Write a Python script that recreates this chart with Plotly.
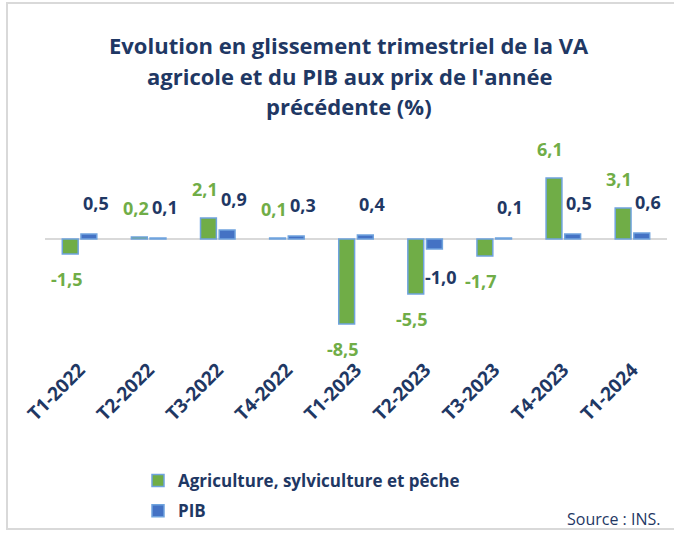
import plotly.graph_objects as go

categories = ["T1-2022", "T2-2022", "T3-2022", "T4-2022", "T1-2023",
              "T2-2023", "T3-2023", "T4-2023", "T1-2024"]
agri = [-1.5, 0.2, 2.1, 0.1, -8.5, -5.5, -1.7, 6.1, 3.1]
pib = [0.5, 0.1, 0.9, 0.3, 0.4, -1.0, 0.1, 0.5, 0.6]
agri_name = "Agriculture, sylviculture et pêche"
pib_name = "PIB"
title_lines = ["Evolution en glissement trimestriel de la VA",
               "agricole et du PIB aux prix de l'année",
               "précédente (%)"]
source_text = "Source : INS."

GREEN = "#70AD47"
BLUE = "#4472C4"
EDGE = "#6FA3DE"
NAVY = "#1F3864"
FONT = "Open Sans"

# plot area in pixels: x 45..667, y 159..354 (zero at 239)
L, R, T, B = 45, 7, 159, 181
W, H = 674, 535
pw, ph = W - L - R, H - T - B


def px_x(p):
    return (p - L) / pw


def px_y(p):
    return (H - B - p) / ph


def fmt(v):
    return f"{v:.1f}".replace(".", ",")


fig = go.Figure()
fig.add_trace(go.Bar(x=categories, y=agri, name=agri_name,
                     marker=dict(color=GREEN, line=dict(color=EDGE, width=1.5)),
                     legendgroup="a"))
fig.add_trace(go.Bar(x=categories, y=pib, name=pib_name,
                     marker=dict(color=BLUE, line=dict(color=EDGE, width=1.5)),
                     legendgroup="b"))

annotations = []
for c, v in zip(categories, agri):
    annotations.append(dict(x=c, y=v, xref="x", yref="y", text=fmt(v),
                            showarrow=False, xshift=-13,
                            yshift=29 if v >= 0 else -25,
                            font=dict(family=FONT, size=18, color=GREEN, weight="bold")))
for c, v in zip(categories, pib):
    annotations.append(dict(x=c, y=v, xref="x", yref="y", text=fmt(v),
                            showarrow=False, xshift=16,
                            yshift=31 if v >= 0 else -28,
                            font=dict(family=FONT, size=18, color=NAVY, weight="bold")))

for line, py in zip(title_lines, [45, 76, 106]):
    annotations.append(dict(x=px_x(349), y=px_y(py), xref="paper", yref="paper",
                            text=line, showarrow=False, xanchor="center", yanchor="middle",
                            font=dict(family=FONT, size=22, color=NAVY, weight="bold")))

annotations.append(dict(x=px_x(662), y=px_y(519), xref="paper", yref="paper",
                        text=source_text, showarrow=False, xanchor="right", yanchor="middle",
                        font=dict(family=FONT, size=16, color=NAVY)))

fig.update_layout(
    width=W, height=H,
    margin=dict(l=L, r=R, t=T, b=B, autoexpand=False),
    paper_bgcolor="white", plot_bgcolor="white",
    barmode="group", bargap=0.46, bargroupgap=0.15,
    showlegend=True,
    legend=dict(x=px_x(138), y=px_y(463), xanchor="left", yanchor="top",
                orientation="v", tracegroupgap=5,
                font=dict(family=FONT, size=17, color=NAVY, weight="bold"),
                bgcolor="rgba(0,0,0,0)"),
    annotations=annotations,
    shapes=[dict(type="rect", xref="paper", yref="paper",
                 x0=px_x(7), x1=px_x(690), y0=px_y(529), y1=px_y(3),
                 line=dict(color="#D9D9D9", width=2), fillcolor="rgba(0,0,0,0)",
                 layer="below")],
    font=dict(family=FONT),
)
fig.update_xaxes(tickangle=-45, showgrid=False, showline=False, ticks="",
                 automargin=False,
                 tickfont=dict(family=FONT, size=19, color=NAVY, weight="bold"))
fig.update_yaxes(range=[-11.5, 8], showticklabels=False, showgrid=False,
                 automargin=False,
                 zeroline=True, zerolinecolor="#D9D9D9", zerolinewidth=2)

fig.write_html("out.html", config={"displayModeBar": False},
               post_script="document.body.style.margin='0';document.body.style.padding='0';")
